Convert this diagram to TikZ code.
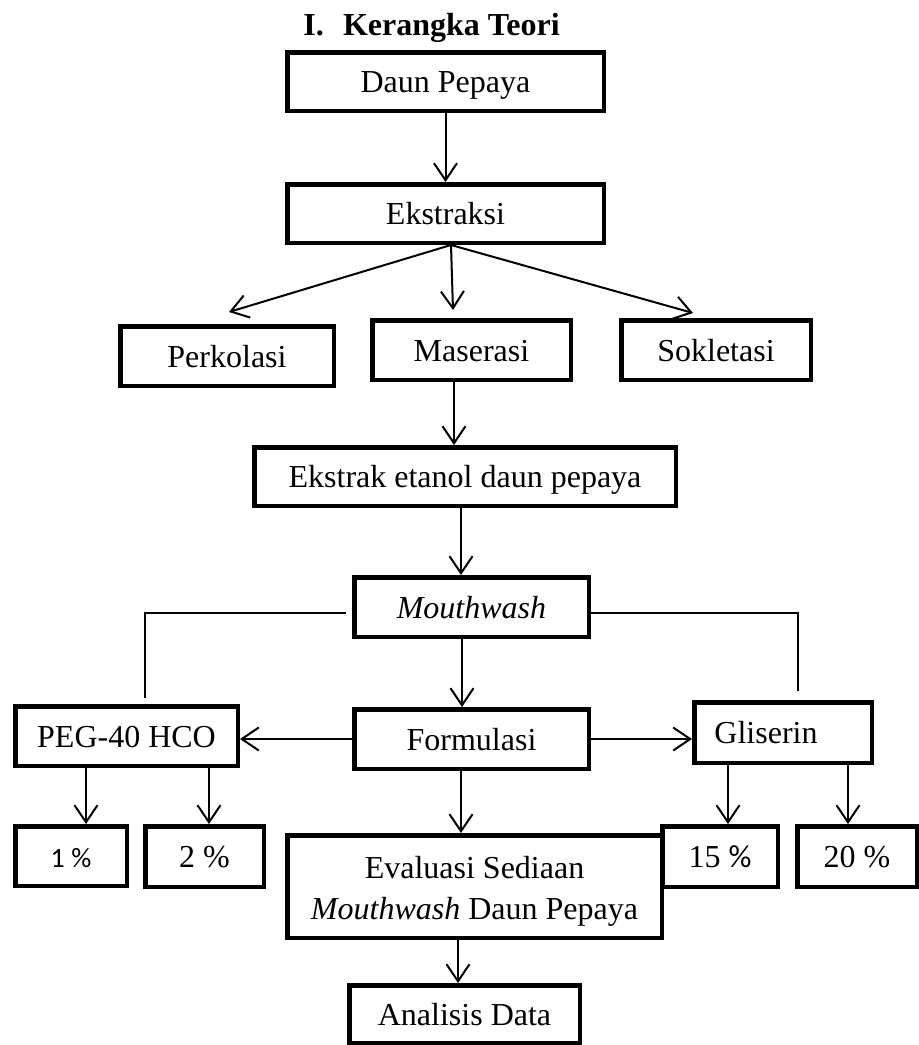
\documentclass[tikz,border=0pt]{standalone}
\usepackage{fontspec}
\setmainfont{Liberation Serif}
\newfontfamily\calib{Carlito}
\usetikzlibrary{arrows.meta}
\begin{document}
\begin{tikzpicture}[x=1pt,y=-1pt,
  box/.style={draw,line width=4.5pt,inner sep=0pt,align=center,
    font=\fontsize{32}{41}\selectfont,text height=24pt,text depth=2pt},
  arr/.style={line width=2pt,-{Straight Barb[length=17pt,width=23pt]}},
  thinline/.style={line width=1.6pt},
  titlestyle/.style={font=\bfseries\fontsize{32}{36}\selectfont,anchor=base,inner sep=0pt}]
\useasboundingbox (0,0) rectangle (919,1045);
\node[titlestyle] (title) at (431.5,35) {I.\hspace{0.6em}Kerangka Teori};
\node[box,minimum width=316.5pt,minimum height=58.5pt] (dp) at (445.5,81.5) {Daun Pepaya};
\node[box,minimum width=316.5pt,minimum height=58.5pt] (ek) at (445.5,213.5) {Ekstraksi};
\node[box,minimum width=213.5pt,minimum height=59.5pt] (pk) at (227,356) {Perkolasi};
\node[box,minimum width=198.5pt,minimum height=59.5pt] (ms) at (471.5,350) {Maserasi};
\node[box,minimum width=189.5pt,minimum height=59.5pt] (sk) at (716,350) {Sokletasi};
\node[box,minimum width=421.5pt,minimum height=58.5pt] (ee) at (465,476.5) {Ekstrak etanol daun pepaya};
\node[box,minimum width=234.5pt,minimum height=59.5pt] (mw) at (471.5,607) {\textit{Mouthwash}};
\node[box,minimum width=222.5pt,minimum height=59.5pt] (peg) at (126.5,736) {PEG-40 HCO};
\node[box,minimum width=234.5pt,minimum height=59.5pt] (fo) at (471.5,739) {Formulasi};
\node[box,minimum width=177.5pt,minimum height=60.5pt] (gl) at (783,732.5) {Gliserin\hspace{34pt}};
\node[box,minimum width=111.5pt,minimum height=59.5pt] (p1) at (71,856) {\calib\fontsize{28}{30}\selectfont 1 \%};
\node[box,minimum width=118.5pt,minimum height=60.5pt] (p2) at (204.5,856.5) {2 \%};
\node[box,minimum width=374.5pt,minimum height=102.5pt,text height={},text depth={}] (ev) at (474.5,886.5) {\rule{0pt}{31pt}Evaluasi Sediaan\\\textit{Mouthwash} Daun Pepaya};
\node[box,minimum width=115.5pt,minimum height=60.5pt] (p15) at (720,856.5) {15 {\calib\%}};
\node[box,minimum width=119.5pt,minimum height=60.5pt] (p20) at (857,856.5) {20 \%};
\node[box,minimum width=230.5pt,minimum height=57.5pt] (an) at (464.5,1014) {Analisis Data};
% coordinates
\coordinate (ekb) at ([xshift=5.5pt]ek.south);
\coordinate (tl) at (229,312);
\coordinate (tm) at (453,310);
\coordinate (tr) at (693,313);
\coordinate (x454) at (454,0);
\coordinate (x461) at (461,0);
\coordinate (x462) at (462,0);
\coordinate (x458) at (458,0);
\coordinate (x86) at (86,0);
\coordinate (x209) at (209,0);
\coordinate (x728) at (728,0);
\coordinate (x848) at (848,0);
\coordinate (lft) at (145,698);
\coordinate (rgt) at (798,691);
% connectors
\draw[arr] (dp) -- (ek);
\draw[arr] (ekb) -- (tl);
\draw[arr] (ekb) -- (tm);
\draw[arr] (ekb) -- (tr);
\draw[arr] (x454 |- ms.south) -- (x454 |- ee.north);
\draw[arr] (x461 |- ee.south) -- (x461 |- mw.north);
\draw[arr] (x462 |- mw.south) -- (x462 |- fo.north);
\draw[arr] (x461 |- fo.south) -- (x461 |- ev.north);
\draw[arr] (x458 |- ev.south) -- (x458 |- an.north);
\draw[arr] (fo.west) -- (fo.west -| peg.east);
\draw[arr] (fo.east) -- (fo.east -| gl.west);
\draw[arr] (x86 |- peg.south) -- (x86 |- p1.north);
\draw[arr] (x209 |- peg.south) -- (x209 |- p2.north);
\draw[arr] (x728 |- gl.south) -- (x728 |- p15.north);
\draw[arr] (x848 |- gl.south) -- (x848 |- p20.north);
\draw[thinline] ([xshift=-6pt,yshift=-6pt]mw.west) -| (lft);
\draw[thinline] ([yshift=-6pt]mw.east) -| (rgt);
\end{tikzpicture}
\end{document}
